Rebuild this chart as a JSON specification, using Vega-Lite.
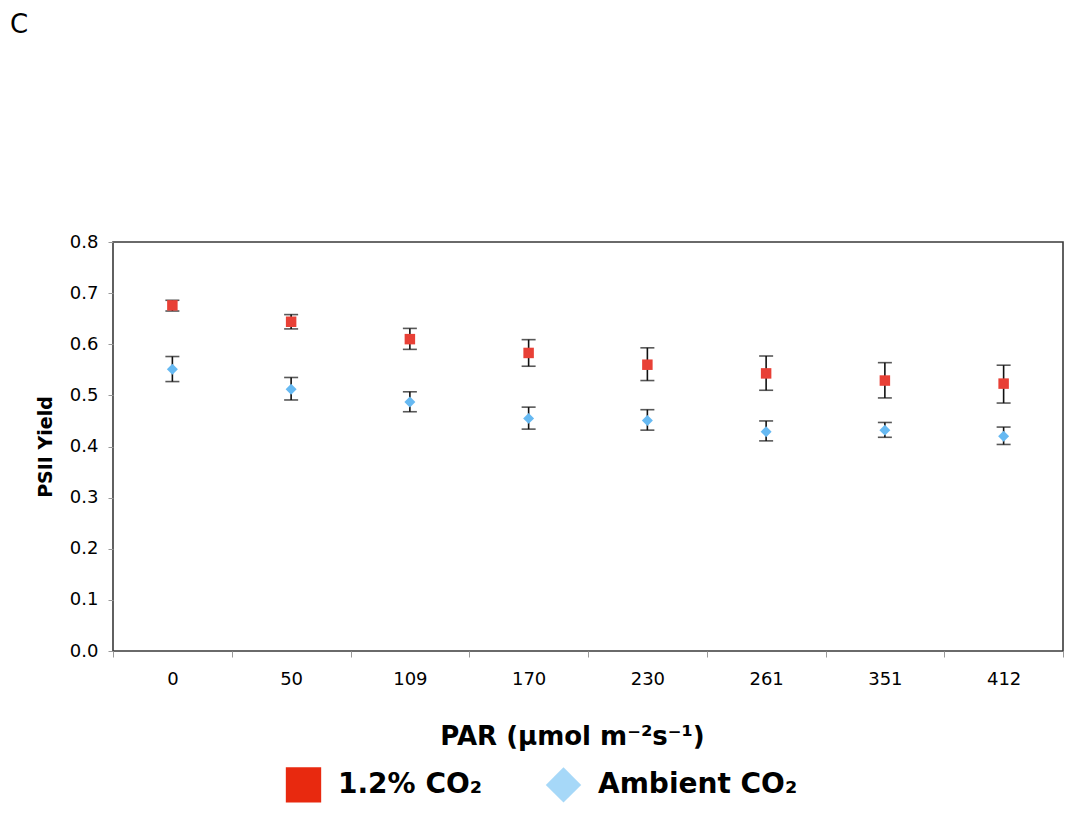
{
  "$schema": "https://vega.github.io/schema/vega-lite/v6.json",
  "autosize": "none",
  "width": 950,
  "height": 409,
  "padding": {"left": 113, "top": 242, "right": 14, "bottom": 178},
  "background": "white",
  "title": {"text": "C", "anchor": "start", "frame": "group", "dx": -103, "offset": 195, "fontSize": 26, "fontWeight": "normal", "font": "DejaVu Sans", "color": "black"},
  "config": {
    "font": "DejaVu Sans",
    "view": {"stroke": "#3a3a3a", "strokeWidth": 1.6},
    "axis": {"grid": false, "domain": false, "labelColor": "black", "labelFont": "DejaVu Sans", "titleFont": "DejaVu Sans", "titleColor": "black", "tickColor": "#999999"}
  },
  "data": {"values": [
    {"par": "0", "series": "1.2% CO₂", "mean": 0.676, "lo": 0.665, "hi": 0.686},
    {"par": "50", "series": "1.2% CO₂", "mean": 0.644, "lo": 0.630, "hi": 0.658},
    {"par": "109", "series": "1.2% CO₂", "mean": 0.610, "lo": 0.590, "hi": 0.631},
    {"par": "170", "series": "1.2% CO₂", "mean": 0.583, "lo": 0.557, "hi": 0.609},
    {"par": "230", "series": "1.2% CO₂", "mean": 0.560, "lo": 0.529, "hi": 0.593},
    {"par": "261", "series": "1.2% CO₂", "mean": 0.543, "lo": 0.510, "hi": 0.577},
    {"par": "351", "series": "1.2% CO₂", "mean": 0.529, "lo": 0.495, "hi": 0.564},
    {"par": "412", "series": "1.2% CO₂", "mean": 0.523, "lo": 0.485, "hi": 0.559},
    {"par": "0", "series": "Ambient CO₂", "mean": 0.551, "lo": 0.527, "hi": 0.576},
    {"par": "50", "series": "Ambient CO₂", "mean": 0.512, "lo": 0.491, "hi": 0.535},
    {"par": "109", "series": "Ambient CO₂", "mean": 0.487, "lo": 0.468, "hi": 0.507},
    {"par": "170", "series": "Ambient CO₂", "mean": 0.455, "lo": 0.434, "hi": 0.477},
    {"par": "230", "series": "Ambient CO₂", "mean": 0.451, "lo": 0.432, "hi": 0.472},
    {"par": "261", "series": "Ambient CO₂", "mean": 0.429, "lo": 0.411, "hi": 0.450},
    {"par": "351", "series": "Ambient CO₂", "mean": 0.432, "lo": 0.418, "hi": 0.447},
    {"par": "412", "series": "Ambient CO₂", "mean": 0.420, "lo": 0.404, "hi": 0.438}
  ]},
  "encoding": {
    "x": {"field": "par", "type": "nominal", "sort": null,
      "scale": {"paddingInner": 0, "paddingOuter": 0},
      "axis": {"title": "PAR (μmol m⁻²s⁻¹)", "labelAngle": 0, "labelFontSize": 18, "labelPadding": 13, "tickBand": "extent", "tickSize": 6, "titleFontSize": 26, "titleFontWeight": "bold", "titlePadding": 35, "titleX": 459}
    },
    "y": {"field": "mean", "type": "quantitative",
      "scale": {"domain": [0, 0.8], "nice": false, "zero": true},
      "axis": {"title": "PSII Yield", "values": [0, 0.1, 0.2, 0.3, 0.4, 0.5, 0.6, 0.7, 0.8], "format": ".1f", "labelFontSize": 18, "labelPadding": 10, "tickSize": 5, "titleFontSize": 19, "titleFontWeight": "bold", "titlePadding": 14}
    }
  },
  "layer": [
    {
      "mark": {"type": "errorbar", "ticks": {"size": 14, "thickness": 1.6, "color": "#111111"}, "rule": {"strokeWidth": 1.6, "color": "#111111"}},
      "encoding": {
        "y": {"field": "lo", "type": "quantitative", "title": "PSII Yield"},
        "y2": {"field": "hi"}
      }
    },
    {
      "mark": {"type": "point", "filled": true, "opacity": 0, "stroke": "#333333", "strokeWidth": 1, "size": 110},
      "encoding": {
        "fill": {"field": "series", "type": "nominal",
          "scale": {"domain": ["1.2% CO₂", "Ambient CO₂"], "range": ["#e8290f", "#a6d8f8"]},
          "legend": {"title": null, "orient": "none", "direction": "horizontal", "legendX": 172, "legendY": 524, "symbolSize": 1250, "symbolOpacity": 1, "symbolStrokeColor": "#333333", "symbolStrokeWidth": 1, "labelFontSize": 28, "labelFontWeight": "bold", "labelColor": "black", "labelLimit": 0, "labelOffset": 16, "columnPadding": 60, "padding": 0}
        },
        "shape": {"field": "series", "type": "nominal",
          "scale": {"domain": ["1.2% CO₂", "Ambient CO₂"], "range": ["square", "diamond"]},
          "legend": {"title": null, "orient": "none", "direction": "horizontal", "legendX": 172, "legendY": 524, "symbolSize": 1250, "symbolOpacity": 1, "symbolStrokeColor": "#333333", "symbolStrokeWidth": 1, "labelFontSize": 28, "labelFontWeight": "bold", "labelColor": "black", "labelLimit": 0, "labelOffset": 16, "columnPadding": 60, "padding": 0}
        }
      }
    },
    {
      "transform": [{"filter": "datum.series === '1.2% CO₂'"}],
      "mark": {"type": "point", "shape": "square", "filled": true, "opacity": 1, "strokeWidth": 0, "size": 110, "color": "#e84036"}
    },
    {
      "transform": [{"filter": "datum.series === 'Ambient CO₂'"}],
      "mark": {"type": "point", "shape": "diamond", "filled": true, "opacity": 1, "strokeWidth": 0, "size": 120, "color": "#66b9f2"}
    }
  ]
}
